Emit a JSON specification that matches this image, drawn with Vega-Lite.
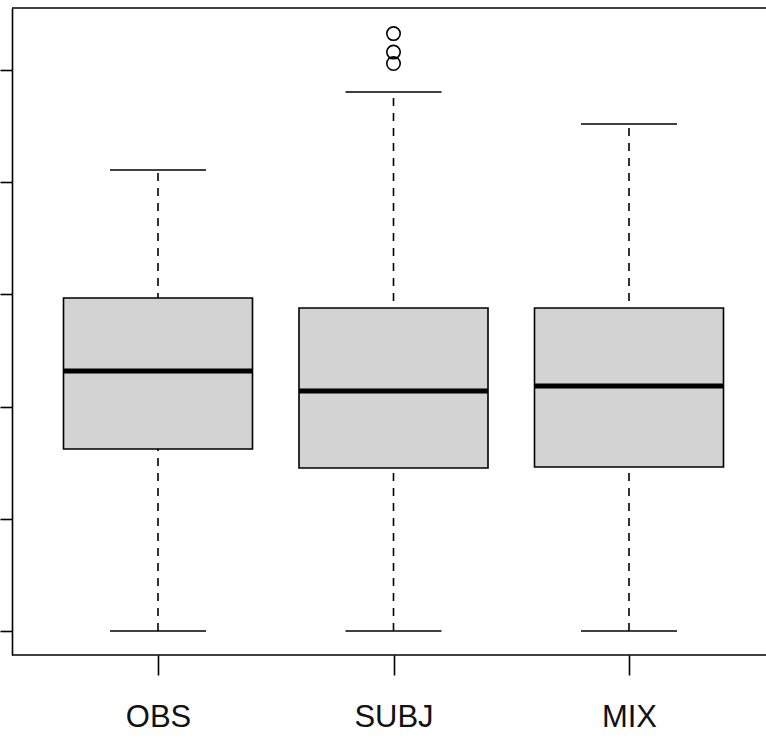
{
  "$schema": "https://vega.github.io/schema/vega-lite/v6.json",
  "autosize": "none",
  "width": 754,
  "height": 647,
  "padding": {"left": 12, "top": 8, "right": 0, "bottom": 85},
  "background": "white",
  "config": {"view": {"stroke": null}, "font": "Liberation Sans"},
  "datasets": {
    "stats": [
      {"group": "OBS", "lo": 0, "q1": 1.622, "med": 2.317, "q3": 2.968, "hi": 4.109},
      {"group": "SUBJ", "lo": 0, "q1": 1.453, "med": 2.139, "q3": 2.879, "hi": 4.804},
      {"group": "MIX", "lo": 0, "q1": 1.462, "med": 2.184, "q3": 2.879, "hi": 4.519}
    ],
    "outliers": [
      {"group": "SUBJ", "value": 5.058},
      {"group": "SUBJ", "value": 5.16},
      {"group": "SUBJ", "value": 5.325}
    ],
    "frame": [
      {"edge": -0.214},
      {"edge": 5.553}
    ]
  },
  "layer": [
    {
      "data": {"name": "stats"},
      "mark": {"type": "rule", "color": "black", "strokeWidth": 1.6, "strokeDash": [8, 7]},
      "encoding": {
        "x": {
          "field": "group",
          "type": "nominal",
          "sort": ["OBS", "SUBJ", "MIX"],
          "scale": {"type": "point", "domain": ["OBS", "SUBJ", "MIX"], "range": [146, 617], "padding": 0},
          "axis": {
            "title": null,
            "domain": false,
            "ticks": true,
            "tickColor": "black",
            "tickWidth": 1.6,
            "tickSize": 20,
            "labelAngle": 0,
            "labelFontSize": 31,
            "labelColor": "#111111",
            "labelFont": "Liberation Sans",
            "labelBaseline": "alphabetic",
            "labelPadding": 51,
            "grid": false
          }
        },
        "y": {
          "field": "lo",
          "type": "quantitative",
          "scale": {"domain": [-0.214, 5.553], "nice": false, "zero": false},
          "axis": {
            "title": null,
            "values": [0, 1, 2, 3, 4, 5],
            "labels": false,
            "domain": true,
            "domainColor": "black",
            "domainWidth": 1.6,
            "tickColor": "black",
            "tickWidth": 1.6,
            "tickSize": 12,
            "grid": false
          }
        },
        "y2": {"field": "hi"}
      }
    },
    {
      "data": {"name": "stats"},
      "mark": {"type": "bar", "size": 189, "fill": "#D3D3D3", "stroke": "black", "strokeWidth": 1.6},
      "encoding": {
        "x": {"field": "group", "type": "nominal"},
        "y": {"field": "q1", "type": "quantitative"},
        "y2": {"field": "q3"}
      }
    },
    {
      "data": {"name": "stats"},
      "mark": {"type": "tick", "size": 189, "thickness": 5, "color": "black", "opacity": 1},
      "encoding": {
        "x": {"field": "group", "type": "nominal"},
        "y": {"field": "med", "type": "quantitative"}
      }
    },
    {
      "data": {"name": "stats"},
      "mark": {"type": "tick", "size": 96, "thickness": 1.6, "color": "black", "opacity": 1},
      "encoding": {
        "x": {"field": "group", "type": "nominal"},
        "y": {"field": "hi", "type": "quantitative"}
      }
    },
    {
      "data": {"name": "stats"},
      "mark": {"type": "tick", "size": 96, "thickness": 1.6, "color": "black", "opacity": 1},
      "encoding": {
        "x": {"field": "group", "type": "nominal"},
        "y": {"field": "lo", "type": "quantitative"}
      }
    },
    {
      "data": {"name": "outliers"},
      "mark": {"type": "point", "shape": "circle", "size": 180, "filled": false, "stroke": "black", "strokeWidth": 1.6, "opacity": 1},
      "encoding": {
        "x": {"field": "group", "type": "nominal"},
        "y": {"field": "value", "type": "quantitative"}
      }
    },
    {
      "data": {"name": "frame"},
      "mark": {"type": "rule", "color": "black", "strokeWidth": 1.6},
      "encoding": {
        "y": {"field": "edge", "type": "quantitative"}
      }
    }
  ]
}
